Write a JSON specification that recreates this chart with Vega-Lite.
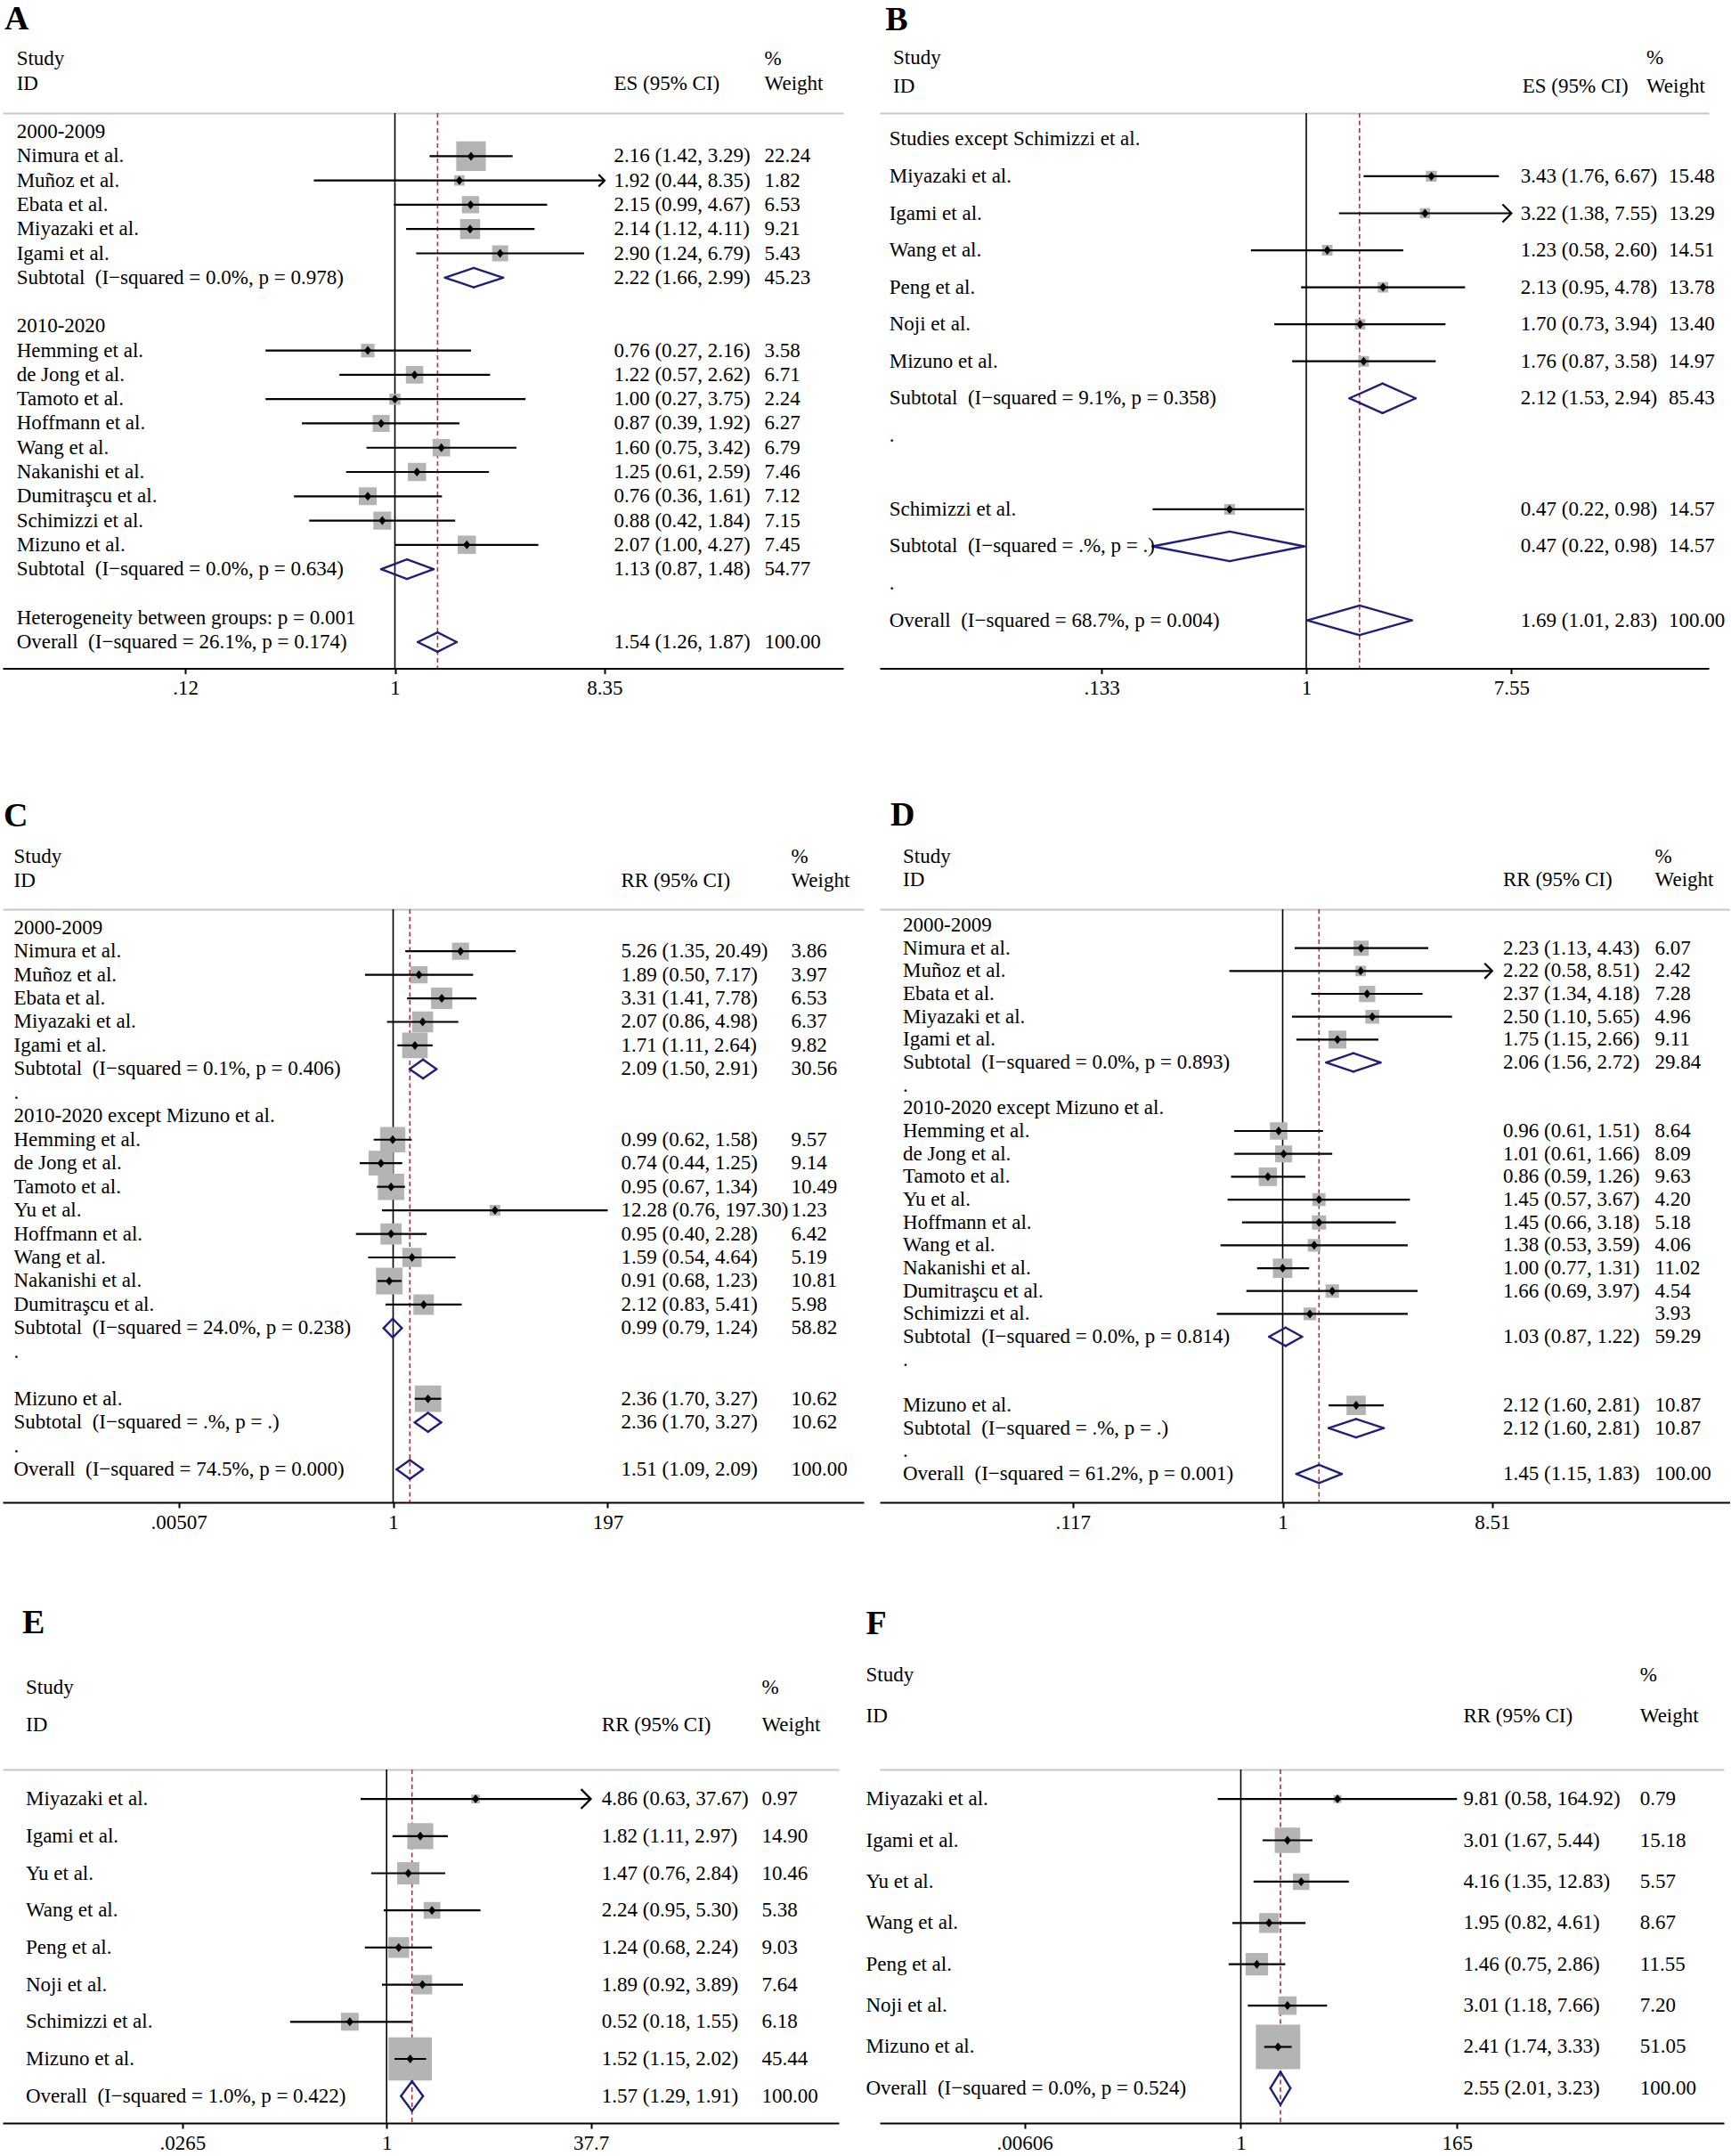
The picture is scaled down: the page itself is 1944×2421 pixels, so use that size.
{
"$schema": "https://vega.github.io/schema/vega-lite/v6.json",
"background": "white",
"padding": {"left": 2, "top": 3, "right": 0, "bottom": 0},
"config": {"view": {"stroke": null}, "font": "Liberation Serif"},
"resolve": {"scale": {"size": "independent"}},
"columns": 4, "spacing": 0, "bounds": "flush", "align": "none",
"datasets": {
"A": [
{"row": -4.62, "kind": "L", "letter": "A"},
{"row": -3, "kind": "h", "h1": "Study", "h3": "%"},
{"row": -2, "kind": "h", "h1": "ID", "h2": "ES (95% CI)", "h3": "Weight"},
{"row": 0, "kind": "g", "label": "2000-2009"},
{"row": 1, "kind": "s", "label": "Nimura et al.", "es": 2.16, "lcl": 1.42, "ucl": 3.29, "wt": 22.24, "ci": "2.16 (1.42, 3.29)"},
{"row": 2, "kind": "s", "label": "Muñoz et al.", "es": 1.92, "lcl": 0.44, "ucl": 8.35, "wt": 1.82, "ci": "1.92 (0.44, 8.35)", "arrow": true},
{"row": 3, "kind": "s", "label": "Ebata et al.", "es": 2.15, "lcl": 0.99, "ucl": 4.67, "wt": 6.53, "ci": "2.15 (0.99, 4.67)"},
{"row": 4, "kind": "s", "label": "Miyazaki et al.", "es": 2.14, "lcl": 1.12, "ucl": 4.11, "wt": 9.21, "ci": "2.14 (1.12, 4.11)"},
{"row": 5, "kind": "s", "label": "Igami et al.", "es": 2.90, "lcl": 1.24, "ucl": 6.79, "wt": 5.43, "ci": "2.90 (1.24, 6.79)"},
{"row": 6, "kind": "sub", "label": "Subtotal\u00a0 (I−squared = 0.0%, p = 0.978)", "es": 2.22, "lcl": 1.66, "ucl": 2.99, "wt": 45.23, "ci": "2.22 (1.66, 2.99)"},
{"row": 8, "kind": "g", "label": "2010-2020"},
{"row": 9, "kind": "s", "label": "Hemming et al.", "es": 0.76, "lcl": 0.27, "ucl": 2.16, "wt": 3.58, "ci": "0.76 (0.27, 2.16)"},
{"row": 10, "kind": "s", "label": "de Jong et al.", "es": 1.22, "lcl": 0.57, "ucl": 2.62, "wt": 6.71, "ci": "1.22 (0.57, 2.62)"},
{"row": 11, "kind": "s", "label": "Tamoto et al.", "es": 1.00, "lcl": 0.27, "ucl": 3.75, "wt": 2.24, "ci": "1.00 (0.27, 3.75)"},
{"row": 12, "kind": "s", "label": "Hoffmann et al.", "es": 0.87, "lcl": 0.39, "ucl": 1.92, "wt": 6.27, "ci": "0.87 (0.39, 1.92)"},
{"row": 13, "kind": "s", "label": "Wang et al.", "es": 1.60, "lcl": 0.75, "ucl": 3.42, "wt": 6.79, "ci": "1.60 (0.75, 3.42)"},
{"row": 14, "kind": "s", "label": "Nakanishi et al.", "es": 1.25, "lcl": 0.61, "ucl": 2.59, "wt": 7.46, "ci": "1.25 (0.61, 2.59)"},
{"row": 15, "kind": "s", "label": "Dumitraşcu et al.", "es": 0.76, "lcl": 0.36, "ucl": 1.61, "wt": 7.12, "ci": "0.76 (0.36, 1.61)"},
{"row": 16, "kind": "s", "label": "Schimizzi et al.", "es": 0.88, "lcl": 0.42, "ucl": 1.84, "wt": 7.15, "ci": "0.88 (0.42, 1.84)"},
{"row": 17, "kind": "s", "label": "Mizuno et al.", "es": 2.07, "lcl": 1.00, "ucl": 4.27, "wt": 7.45, "ci": "2.07 (1.00, 4.27)"},
{"row": 18, "kind": "sub", "label": "Subtotal\u00a0 (I−squared = 0.0%, p = 0.634)", "es": 1.13, "lcl": 0.87, "ucl": 1.48, "wt": 54.77, "ci": "1.13 (0.87, 1.48)"},
{"row": 20, "kind": "n", "label": "Heterogeneity between groups: p = 0.001"},
{"row": 21, "kind": "ov", "label": "Overall\u00a0 (I−squared = 26.1%, p = 0.174)", "es": 1.54, "lcl": 1.26, "ucl": 1.87, "wt": 100, "ci": "1.54 (1.26, 1.87)"}
],
"B": [
{"row": -3.2, "kind": "L", "letter": "B"},
{"row": -2.2, "kind": "h", "h1": "Study", "h3": "%"},
{"row": -1.425, "kind": "h", "h1": "ID", "h2": "ES (95% CI)", "h3": "Weight"},
{"row": 0, "kind": "g", "label": "Studies except Schimizzi et al."},
{"row": 1, "kind": "s", "label": "Miyazaki et al.", "es": 3.43, "lcl": 1.76, "ucl": 6.67, "wt": 15.48, "ci": "3.43 (1.76, 6.67)"},
{"row": 2, "kind": "s", "label": "Igami et al.", "es": 3.22, "lcl": 1.38, "ucl": 7.55, "wt": 13.29, "ci": "3.22 (1.38, 7.55)", "arrow": true},
{"row": 3, "kind": "s", "label": "Wang et al.", "es": 1.23, "lcl": 0.58, "ucl": 2.60, "wt": 14.51, "ci": "1.23 (0.58, 2.60)"},
{"row": 4, "kind": "s", "label": "Peng et al.", "es": 2.13, "lcl": 0.95, "ucl": 4.78, "wt": 13.78, "ci": "2.13 (0.95, 4.78)"},
{"row": 5, "kind": "s", "label": "Noji et al.", "es": 1.70, "lcl": 0.73, "ucl": 3.94, "wt": 13.40, "ci": "1.70 (0.73, 3.94)"},
{"row": 6, "kind": "s", "label": "Mizuno et al.", "es": 1.76, "lcl": 0.87, "ucl": 3.58, "wt": 14.97, "ci": "1.76 (0.87, 3.58)"},
{"row": 7, "kind": "sub", "label": "Subtotal\u00a0 (I−squared = 9.1%, p = 0.358)", "es": 2.12, "lcl": 1.53, "ucl": 2.94, "wt": 85.43, "ci": "2.12 (1.53, 2.94)"},
{"row": 8, "kind": "g", "label": "."},
{"row": 10, "kind": "s", "label": "Schimizzi et al.", "es": 0.47, "lcl": 0.22, "ucl": 0.98, "wt": 14.57, "ci": "0.47 (0.22, 0.98)"},
{"row": 11, "kind": "sub", "label": "Subtotal\u00a0 (I−squared = .%, p = .)", "es": 0.47, "lcl": 0.22, "ucl": 0.98, "wt": 14.57, "ci": "0.47 (0.22, 0.98)"},
{"row": 12, "kind": "g", "label": "."},
{"row": 13, "kind": "ov", "label": "Overall\u00a0 (I−squared = 68.7%, p = 0.004)", "es": 1.69, "lcl": 1.01, "ucl": 2.83, "wt": 100, "ci": "1.69 (1.01, 2.83)"}
],
"C": [
{"row": -4.71, "kind": "L", "letter": "C"},
{"row": -3, "kind": "h", "h1": "Study", "h3": "%"},
{"row": -2, "kind": "h", "h1": "ID", "h2": "RR (95% CI)", "h3": "Weight"},
{"row": 0, "kind": "g", "label": "2000-2009"},
{"row": 1, "kind": "s", "label": "Nimura et al.", "es": 5.26, "lcl": 1.35, "ucl": 20.49, "wt": 3.86, "ci": "5.26 (1.35, 20.49)"},
{"row": 2, "kind": "s", "label": "Muñoz et al.", "es": 1.89, "lcl": 0.50, "ucl": 7.17, "wt": 3.97, "ci": "1.89 (0.50, 7.17)"},
{"row": 3, "kind": "s", "label": "Ebata et al.", "es": 3.31, "lcl": 1.41, "ucl": 7.78, "wt": 6.53, "ci": "3.31 (1.41, 7.78)"},
{"row": 4, "kind": "s", "label": "Miyazaki et al.", "es": 2.07, "lcl": 0.86, "ucl": 4.98, "wt": 6.37, "ci": "2.07 (0.86, 4.98)"},
{"row": 5, "kind": "s", "label": "Igami et al.", "es": 1.71, "lcl": 1.11, "ucl": 2.64, "wt": 9.82, "ci": "1.71 (1.11, 2.64)"},
{"row": 6, "kind": "sub", "label": "Subtotal\u00a0 (I−squared = 0.1%, p = 0.406)", "es": 2.09, "lcl": 1.50, "ucl": 2.91, "wt": 30.56, "ci": "2.09 (1.50, 2.91)"},
{"row": 7, "kind": "g", "label": "."},
{"row": 8, "kind": "g", "label": "2010-2020 except Mizuno et al."},
{"row": 9, "kind": "s", "label": "Hemming et al.", "es": 0.99, "lcl": 0.62, "ucl": 1.58, "wt": 9.57, "ci": "0.99 (0.62, 1.58)"},
{"row": 10, "kind": "s", "label": "de Jong et al.", "es": 0.74, "lcl": 0.44, "ucl": 1.25, "wt": 9.14, "ci": "0.74 (0.44, 1.25)"},
{"row": 11, "kind": "s", "label": "Tamoto et al.", "es": 0.95, "lcl": 0.67, "ucl": 1.34, "wt": 10.49, "ci": "0.95 (0.67, 1.34)"},
{"row": 12, "kind": "s", "label": "Yu et al.", "es": 12.28, "lcl": 0.76, "ucl": 197.30, "wt": 1.23, "ci": "12.28 (0.76, 197.30)"},
{"row": 13, "kind": "s", "label": "Hoffmann et al.", "es": 0.95, "lcl": 0.40, "ucl": 2.28, "wt": 6.42, "ci": "0.95 (0.40, 2.28)"},
{"row": 14, "kind": "s", "label": "Wang et al.", "es": 1.59, "lcl": 0.54, "ucl": 4.64, "wt": 5.19, "ci": "1.59 (0.54, 4.64)"},
{"row": 15, "kind": "s", "label": "Nakanishi et al.", "es": 0.91, "lcl": 0.68, "ucl": 1.23, "wt": 10.81, "ci": "0.91 (0.68, 1.23)"},
{"row": 16, "kind": "s", "label": "Dumitraşcu et al.", "es": 2.12, "lcl": 0.83, "ucl": 5.41, "wt": 5.98, "ci": "2.12 (0.83, 5.41)"},
{"row": 17, "kind": "sub", "label": "Subtotal\u00a0 (I−squared = 24.0%, p = 0.238)", "es": 0.99, "lcl": 0.79, "ucl": 1.24, "wt": 58.82, "ci": "0.99 (0.79, 1.24)"},
{"row": 18, "kind": "g", "label": "."},
{"row": 20, "kind": "s", "label": "Mizuno et al.", "es": 2.36, "lcl": 1.70, "ucl": 3.27, "wt": 10.62, "ci": "2.36 (1.70, 3.27)"},
{"row": 21, "kind": "sub", "label": "Subtotal\u00a0 (I−squared = .%, p = .)", "es": 2.36, "lcl": 1.70, "ucl": 3.27, "wt": 10.62, "ci": "2.36 (1.70, 3.27)"},
{"row": 22, "kind": "g", "label": "."},
{"row": 23, "kind": "ov", "label": "Overall\u00a0 (I−squared = 74.5%, p = 0.000)", "es": 1.51, "lcl": 1.09, "ucl": 2.09, "wt": 100, "ci": "1.51 (1.09, 2.09)"}
],
"D": [
{"row": -4.81, "kind": "L", "letter": "D"},
{"row": -3, "kind": "h", "h1": "Study", "h3": "%"},
{"row": -2, "kind": "h", "h1": "ID", "h2": "RR (95% CI)", "h3": "Weight"},
{"row": 0, "kind": "g", "label": "2000-2009"},
{"row": 1, "kind": "s", "label": "Nimura et al.", "es": 2.23, "lcl": 1.13, "ucl": 4.43, "wt": 6.07, "ci": "2.23 (1.13, 4.43)"},
{"row": 2, "kind": "s", "label": "Muñoz et al.", "es": 2.22, "lcl": 0.58, "ucl": 8.51, "wt": 2.42, "ci": "2.22 (0.58, 8.51)", "arrow": true},
{"row": 3, "kind": "s", "label": "Ebata et al.", "es": 2.37, "lcl": 1.34, "ucl": 4.18, "wt": 7.28, "ci": "2.37 (1.34, 4.18)"},
{"row": 4, "kind": "s", "label": "Miyazaki et al.", "es": 2.50, "lcl": 1.10, "ucl": 5.65, "wt": 4.96, "ci": "2.50 (1.10, 5.65)"},
{"row": 5, "kind": "s", "label": "Igami et al.", "es": 1.75, "lcl": 1.15, "ucl": 2.66, "wt": 9.11, "ci": "1.75 (1.15, 2.66)"},
{"row": 6, "kind": "sub", "label": "Subtotal\u00a0 (I−squared = 0.0%, p = 0.893)", "es": 2.06, "lcl": 1.56, "ucl": 2.72, "wt": 29.84, "ci": "2.06 (1.56, 2.72)"},
{"row": 7, "kind": "g", "label": "."},
{"row": 8, "kind": "g", "label": "2010-2020 except Mizuno et al."},
{"row": 9, "kind": "s", "label": "Hemming et al.", "es": 0.96, "lcl": 0.61, "ucl": 1.51, "wt": 8.64, "ci": "0.96 (0.61, 1.51)"},
{"row": 10, "kind": "s", "label": "de Jong et al.", "es": 1.01, "lcl": 0.61, "ucl": 1.66, "wt": 8.09, "ci": "1.01 (0.61, 1.66)"},
{"row": 11, "kind": "s", "label": "Tamoto et al.", "es": 0.86, "lcl": 0.59, "ucl": 1.26, "wt": 9.63, "ci": "0.86 (0.59, 1.26)"},
{"row": 12, "kind": "s", "label": "Yu et al.", "es": 1.45, "lcl": 0.57, "ucl": 3.67, "wt": 4.20, "ci": "1.45 (0.57, 3.67)"},
{"row": 13, "kind": "s", "label": "Hoffmann et al.", "es": 1.45, "lcl": 0.66, "ucl": 3.18, "wt": 5.18, "ci": "1.45 (0.66, 3.18)"},
{"row": 14, "kind": "s", "label": "Wang et al.", "es": 1.38, "lcl": 0.53, "ucl": 3.59, "wt": 4.06, "ci": "1.38 (0.53, 3.59)"},
{"row": 15, "kind": "s", "label": "Nakanishi et al.", "es": 1.00, "lcl": 0.77, "ucl": 1.31, "wt": 11.02, "ci": "1.00 (0.77, 1.31)"},
{"row": 16, "kind": "s", "label": "Dumitraşcu et al.", "es": 1.66, "lcl": 0.69, "ucl": 3.97, "wt": 4.54, "ci": "1.66 (0.69, 3.97)"},
{"row": 17, "kind": "s", "label": "Schimizzi et al.", "es": 1.32, "lcl": 0.51, "ucl": 3.59, "wt": 3.93},
{"row": 18, "kind": "sub", "label": "Subtotal\u00a0 (I−squared = 0.0%, p = 0.814)", "es": 1.03, "lcl": 0.87, "ucl": 1.22, "wt": 59.29, "ci": "1.03 (0.87, 1.22)"},
{"row": 19, "kind": "g", "label": "."},
{"row": 21, "kind": "s", "label": "Mizuno et al.", "es": 2.12, "lcl": 1.60, "ucl": 2.81, "wt": 10.87, "ci": "2.12 (1.60, 2.81)"},
{"row": 22, "kind": "sub", "label": "Subtotal\u00a0 (I−squared = .%, p = .)", "es": 2.12, "lcl": 1.60, "ucl": 2.81, "wt": 10.87, "ci": "2.12 (1.60, 2.81)"},
{"row": 23, "kind": "g", "label": "."},
{"row": 24, "kind": "ov", "label": "Overall\u00a0 (I−squared = 61.2%, p = 0.001)", "es": 1.45, "lcl": 1.15, "ucl": 1.83, "wt": 100, "ci": "1.45 (1.15, 1.83)"}
],
"E": [
{"row": -4.715, "kind": "L", "letter": "E"},
{"row": -3, "kind": "h", "h1": "Study", "h3": "%"},
{"row": -2, "kind": "h", "h1": "ID", "h2": "RR (95% CI)", "h3": "Weight"},
{"row": 0, "kind": "s", "label": "Miyazaki et al.", "es": 4.86, "lcl": 0.63, "ucl": 37.67, "wt": 0.97, "ci": "4.86 (0.63, 37.67)", "arrow": true},
{"row": 1, "kind": "s", "label": "Igami et al.", "es": 1.82, "lcl": 1.11, "ucl": 2.97, "wt": 14.90, "ci": "1.82 (1.11, 2.97)"},
{"row": 2, "kind": "s", "label": "Yu et al.", "es": 1.47, "lcl": 0.76, "ucl": 2.84, "wt": 10.46, "ci": "1.47 (0.76, 2.84)"},
{"row": 3, "kind": "s", "label": "Wang et al.", "es": 2.24, "lcl": 0.95, "ucl": 5.30, "wt": 5.38, "ci": "2.24 (0.95, 5.30)"},
{"row": 4, "kind": "s", "label": "Peng et al.", "es": 1.24, "lcl": 0.68, "ucl": 2.24, "wt": 9.03, "ci": "1.24 (0.68, 2.24)"},
{"row": 5, "kind": "s", "label": "Noji et al.", "es": 1.89, "lcl": 0.92, "ucl": 3.89, "wt": 7.64, "ci": "1.89 (0.92, 3.89)"},
{"row": 6, "kind": "s", "label": "Schimizzi et al.", "es": 0.52, "lcl": 0.18, "ucl": 1.55, "wt": 6.18, "ci": "0.52 (0.18, 1.55)"},
{"row": 7, "kind": "s", "label": "Mizuno et al.", "es": 1.52, "lcl": 1.15, "ucl": 2.02, "wt": 45.44, "ci": "1.52 (1.15, 2.02)"},
{"row": 8, "kind": "ov", "label": "Overall\u00a0 (I−squared = 1.0%, p = 0.422)", "es": 1.57, "lcl": 1.29, "ucl": 1.91, "wt": 100, "ci": "1.57 (1.29, 1.91)"}
],
"F": [
{"row": -4.226, "kind": "L", "letter": "F"},
{"row": -3, "kind": "h", "h1": "Study", "h3": "%"},
{"row": -2, "kind": "h", "h1": "ID", "h2": "RR (95% CI)", "h3": "Weight"},
{"row": 0, "kind": "s", "label": "Miyazaki et al.", "es": 9.81, "lcl": 0.58, "ucl": 164.92, "wt": 0.79, "ci": "9.81 (0.58, 164.92)"},
{"row": 1, "kind": "s", "label": "Igami et al.", "es": 3.01, "lcl": 1.67, "ucl": 5.44, "wt": 15.18, "ci": "3.01 (1.67, 5.44)"},
{"row": 2, "kind": "s", "label": "Yu et al.", "es": 4.16, "lcl": 1.35, "ucl": 12.83, "wt": 5.57, "ci": "4.16 (1.35, 12.83)"},
{"row": 3, "kind": "s", "label": "Wang et al.", "es": 1.95, "lcl": 0.82, "ucl": 4.61, "wt": 8.67, "ci": "1.95 (0.82, 4.61)"},
{"row": 4, "kind": "s", "label": "Peng et al.", "es": 1.46, "lcl": 0.75, "ucl": 2.86, "wt": 11.55, "ci": "1.46 (0.75, 2.86)"},
{"row": 5, "kind": "s", "label": "Noji et al.", "es": 3.01, "lcl": 1.18, "ucl": 7.66, "wt": 7.20, "ci": "3.01 (1.18, 7.66)"},
{"row": 6, "kind": "s", "label": "Mizuno et al.", "es": 2.41, "lcl": 1.74, "ucl": 3.33, "wt": 51.05, "ci": "2.41 (1.74, 3.33)"},
{"row": 7, "kind": "ov", "label": "Overall\u00a0 (I−squared = 0.0%, p = 0.524)", "es": 2.55, "lcl": 2.01, "ucl": 3.23, "wt": 100, "ci": "2.55 (2.01, 3.23)"}
]
},
"concat": [
{"width": 1, "height": 1, "data": {"values": [{}]}, "mark": {"type": "text", "text": ""}},
{"width": 944, "height": 623.5, "data": {"name": "A"}, "layer": [
{"data": {"values": [{}]}, "mark": {"type": "rule", "color": "black", "strokeWidth": 1.6}, "encoding": {"x": {"datum": 1, "type": "quantitative", "scale": {"type": "log", "domain": [0.018874, 93.46], "nice": false}, "axis": null}}},
{"transform": [{"filter": "datum.kind == 'ov'"}], "mark": {"type": "rule", "color": "#a8323e", "strokeWidth": 1.6, "strokeDash": [5, 3.5]}, "encoding": {"x": {"field": "es", "type": "quantitative", "scale": {"type": "log", "domain": [0.018874, 93.46], "nice": false}, "axis": null}}},
{"transform": [{"filter": "datum.kind == 's'"}], "mark": {"type": "point", "shape": "square", "filled": true, "fill": "#b4b4b4", "stroke": "#b4b4b4", "strokeWidth": 3, "opacity": 1}, "encoding": {"x": {"field": "es", "type": "quantitative", "scale": {"type": "log", "domain": [0.018874, 93.46], "nice": false}, "axis": {"orient": "top", "title": null, "grid": false, "ticks": false, "labels": false, "domainColor": "#c8c8c8", "domainWidth": 2}}, "y": {"field": "row", "type": "quantitative", "scale": {"domain": [-0.7735, 22.082], "reverse": true, "nice": false, "zero": false}, "axis": null}, "size": {"field": "wt", "type": "quantitative", "scale": {"domain": [0, 100], "range": [0, 4100]}, "legend": null}}},
{"transform": [{"filter": "datum.kind == 's'"}], "mark": {"type": "rule", "color": "black", "strokeWidth": 2.2}, "encoding": {"x": {"field": "lcl", "type": "quantitative", "scale": {"type": "log", "domain": [0.018874, 93.46], "nice": false}, "axis": {"orient": "bottom", "values": [0.12, 1, 8.35], "labelExpr": "datum.value < 1 ? replace(format(datum.value, '~g'), '0.', '.') : format(datum.value, '~g')", "title": null, "grid": false, "domainColor": "black", "domainWidth": 2, "tickColor": "black", "tickWidth": 2, "tickSize": 6, "labelPadding": 5, "labelFont": "Liberation Serif", "labelFontSize": 23, "labelColor": "black", "labelFlush": false, "labelOverlap": false, "labelBound": false}}, "x2": {"field": "ucl"}, "y": {"field": "row", "type": "quantitative", "scale": {"domain": [-0.7735, 22.082], "reverse": true, "nice": false, "zero": false}, "axis": null}}},
{"transform": [{"filter": "datum.kind == 's'"}], "mark": {"type": "point", "shape": "M-0.8,0L0,-1L0.8,0L0,1Z", "filled": true, "fill": "black", "strokeWidth": 0, "size": 100, "opacity": 1}, "encoding": {"x": {"field": "es", "type": "quantitative", "scale": {"type": "log", "domain": [0.018874, 93.46], "nice": false}, "axis": null}, "y": {"field": "row", "type": "quantitative", "scale": {"domain": [-0.7735, 22.082], "reverse": true, "nice": false, "zero": false}, "axis": null}}},
{"transform": [{"filter": "datum.arrow == true"}], "mark": {"type": "point", "shape": "M-1,-1L0,0L-1,1", "filled": false, "stroke": "black", "strokeWidth": 2.2, "size": 180, "opacity": 1}, "encoding": {"x": {"field": "ucl", "type": "quantitative", "scale": {"type": "log", "domain": [0.018874, 93.46], "nice": false}, "axis": null}, "y": {"field": "row", "type": "quantitative", "scale": {"domain": [-0.7735, 22.082], "reverse": true, "nice": false, "zero": false}, "axis": null}}},
{"transform": [{"filter": "datum.kind == 'sub' || datum.kind == 'ov'"}], "mark": {"type": "rule", "color": "#1f1f7a", "strokeWidth": 2.4, "strokeCap": "round", "y2Offset": -10.9}, "encoding": {"x": {"field": "lcl", "type": "quantitative", "scale": {"type": "log", "domain": [0.018874, 93.46], "nice": false}, "axis": null}, "x2": {"field": "es"}, "y": {"field": "row", "type": "quantitative", "scale": {"domain": [-0.7735, 22.082], "reverse": true, "nice": false, "zero": false}, "axis": null}, "y2": {"field": "row"}}},
{"transform": [{"filter": "datum.kind == 'sub' || datum.kind == 'ov'"}], "mark": {"type": "rule", "color": "#1f1f7a", "strokeWidth": 2.4, "strokeCap": "round", "yOffset": -10.9}, "encoding": {"x": {"field": "es", "type": "quantitative", "scale": {"type": "log", "domain": [0.018874, 93.46], "nice": false}, "axis": null}, "x2": {"field": "ucl"}, "y": {"field": "row", "type": "quantitative", "scale": {"domain": [-0.7735, 22.082], "reverse": true, "nice": false, "zero": false}, "axis": null}, "y2": {"field": "row"}}},
{"transform": [{"filter": "datum.kind == 'sub' || datum.kind == 'ov'"}], "mark": {"type": "rule", "color": "#1f1f7a", "strokeWidth": 2.4, "strokeCap": "round", "y2Offset": 10.9}, "encoding": {"x": {"field": "lcl", "type": "quantitative", "scale": {"type": "log", "domain": [0.018874, 93.46], "nice": false}, "axis": null}, "x2": {"field": "es"}, "y": {"field": "row", "type": "quantitative", "scale": {"domain": [-0.7735, 22.082], "reverse": true, "nice": false, "zero": false}, "axis": null}, "y2": {"field": "row"}}},
{"transform": [{"filter": "datum.kind == 'sub' || datum.kind == 'ov'"}], "mark": {"type": "rule", "color": "#1f1f7a", "strokeWidth": 2.4, "strokeCap": "round", "yOffset": 10.9}, "encoding": {"x": {"field": "es", "type": "quantitative", "scale": {"type": "log", "domain": [0.018874, 93.46], "nice": false}, "axis": null}, "x2": {"field": "ucl"}, "y": {"field": "row", "type": "quantitative", "scale": {"domain": [-0.7735, 22.082], "reverse": true, "nice": false, "zero": false}, "axis": null}, "y2": {"field": "row"}}},
{"transform": [{"filter": "isValid(datum.label)"}], "mark": {"type": "text", "align": "left", "baseline": "middle", "font": "Liberation Serif", "fontSize": 23, "color": "black"}, "encoding": {"x": {"datum": 0.02173, "type": "quantitative", "scale": {"type": "log", "domain": [0.018874, 93.46], "nice": false}, "axis": null}, "y": {"field": "row", "type": "quantitative", "scale": {"domain": [-0.7735, 22.082], "reverse": true, "nice": false, "zero": false}, "axis": null}, "text": {"field": "label"}}},
{"transform": [{"filter": "isValid(datum.ci)"}], "mark": {"type": "text", "align": "left", "baseline": "middle", "font": "Liberation Serif", "fontSize": 23, "color": "black"}, "encoding": {"x": {"datum": 9.172, "type": "quantitative", "scale": {"type": "log", "domain": [0.018874, 93.46], "nice": false}, "axis": null}, "y": {"field": "row", "type": "quantitative", "scale": {"domain": [-0.7735, 22.082], "reverse": true, "nice": false, "zero": false}, "axis": null}, "text": {"field": "ci"}}},
{"transform": [{"filter": "isValid(datum.wt)"}], "mark": {"type": "text", "align": "left", "baseline": "middle", "font": "Liberation Serif", "fontSize": 23, "color": "black"}, "encoding": {"x": {"datum": 42.13, "type": "quantitative", "scale": {"type": "log", "domain": [0.018874, 93.46], "nice": false}, "axis": null}, "y": {"field": "row", "type": "quantitative", "scale": {"domain": [-0.7735, 22.082], "reverse": true, "nice": false, "zero": false}, "axis": null}, "text": {"field": "wt", "type": "quantitative", "format": ".2f"}}},
{"transform": [{"filter": "isValid(datum.h1)"}], "mark": {"type": "text", "align": "left", "baseline": "middle", "font": "Liberation Serif", "fontSize": 23, "color": "black"}, "encoding": {"x": {"datum": 0.02173, "type": "quantitative", "scale": {"type": "log", "domain": [0.018874, 93.46], "nice": false}, "axis": null}, "y": {"field": "row", "type": "quantitative", "scale": {"domain": [-0.7735, 22.082], "reverse": true, "nice": false, "zero": false}, "axis": null}, "text": {"field": "h1"}}},
{"transform": [{"filter": "isValid(datum.h2)"}], "mark": {"type": "text", "align": "left", "baseline": "middle", "font": "Liberation Serif", "fontSize": 23, "color": "black"}, "encoding": {"x": {"datum": 9.172, "type": "quantitative", "scale": {"type": "log", "domain": [0.018874, 93.46], "nice": false}, "axis": null}, "y": {"field": "row", "type": "quantitative", "scale": {"domain": [-0.7735, 22.082], "reverse": true, "nice": false, "zero": false}, "axis": null}, "text": {"field": "h2"}}},
{"transform": [{"filter": "isValid(datum.h3)"}], "mark": {"type": "text", "align": "left", "baseline": "middle", "font": "Liberation Serif", "fontSize": 23, "color": "black"}, "encoding": {"x": {"datum": 42.13, "type": "quantitative", "scale": {"type": "log", "domain": [0.018874, 93.46], "nice": false}, "axis": null}, "y": {"field": "row", "type": "quantitative", "scale": {"domain": [-0.7735, 22.082], "reverse": true, "nice": false, "zero": false}, "axis": null}, "text": {"field": "h3"}}},
{"transform": [{"filter": "isValid(datum.letter)"}], "mark": {"type": "text", "align": "left", "baseline": "middle", "font": "Liberation Serif", "fontSize": 38, "fontWeight": "bold", "color": "black"}, "encoding": {"x": {"datum": 0.01922, "type": "quantitative", "scale": {"type": "log", "domain": [0.018874, 93.46], "nice": false}, "axis": null}, "y": {"field": "row", "type": "quantitative", "scale": {"domain": [-0.7735, 22.082], "reverse": true, "nice": false, "zero": false}, "axis": null}, "text": {"field": "letter"}}}
]},
{"width": 18, "height": 1, "data": {"values": [{}]}, "mark": {"type": "text", "text": ""}},
{"width": 931, "height": 623.5, "data": {"name": "B"}, "layer": [
{"data": {"values": [{}]}, "mark": {"type": "rule", "color": "black", "strokeWidth": 1.6}, "encoding": {"x": {"datum": 1, "type": "quantitative", "scale": {"type": "log", "domain": [0.01497, 52.72], "nice": false}, "axis": null}}},
{"transform": [{"filter": "datum.kind == 'ov'"}], "mark": {"type": "rule", "color": "#a8323e", "strokeWidth": 1.6, "strokeDash": [5, 3.5]}, "encoding": {"x": {"field": "es", "type": "quantitative", "scale": {"type": "log", "domain": [0.01497, 52.72], "nice": false}, "axis": null}}},
{"transform": [{"filter": "datum.kind == 's'"}], "mark": {"type": "point", "shape": "square", "filled": true, "fill": "#b4b4b4", "stroke": "#b4b4b4", "strokeWidth": 3, "opacity": 1}, "encoding": {"x": {"field": "es", "type": "quantitative", "scale": {"type": "log", "domain": [0.01497, 52.72], "nice": false}, "axis": {"orient": "top", "title": null, "grid": false, "ticks": false, "labels": false, "domainColor": "#c8c8c8", "domainWidth": 2}}, "y": {"field": "row", "type": "quantitative", "scale": {"domain": [-0.7076, 14.298], "reverse": true, "nice": false, "zero": false}, "axis": null}, "size": {"field": "wt", "type": "quantitative", "scale": {"domain": [0, 100], "range": [0, 550]}, "legend": null}}},
{"transform": [{"filter": "datum.kind == 's'"}], "mark": {"type": "rule", "color": "black", "strokeWidth": 2.2}, "encoding": {"x": {"field": "lcl", "type": "quantitative", "scale": {"type": "log", "domain": [0.01497, 52.72], "nice": false}, "axis": {"orient": "bottom", "values": [0.133, 1, 7.55], "labelExpr": "datum.value < 1 ? replace(format(datum.value, '~g'), '0.', '.') : format(datum.value, '~g')", "title": null, "grid": false, "domainColor": "black", "domainWidth": 2, "tickColor": "black", "tickWidth": 2, "tickSize": 6, "labelPadding": 5, "labelFont": "Liberation Serif", "labelFontSize": 23, "labelColor": "black", "labelFlush": false, "labelOverlap": false, "labelBound": false}}, "x2": {"field": "ucl"}, "y": {"field": "row", "type": "quantitative", "scale": {"domain": [-0.7076, 14.298], "reverse": true, "nice": false, "zero": false}, "axis": null}}},
{"transform": [{"filter": "datum.kind == 's'"}], "mark": {"type": "point", "shape": "M-0.8,0L0,-1L0.8,0L0,1Z", "filled": true, "fill": "black", "strokeWidth": 0, "size": 100, "opacity": 1}, "encoding": {"x": {"field": "es", "type": "quantitative", "scale": {"type": "log", "domain": [0.01497, 52.72], "nice": false}, "axis": null}, "y": {"field": "row", "type": "quantitative", "scale": {"domain": [-0.7076, 14.298], "reverse": true, "nice": false, "zero": false}, "axis": null}}},
{"transform": [{"filter": "datum.arrow == true"}], "mark": {"type": "point", "shape": "M-1,-1L0,0L-1,1", "filled": false, "stroke": "black", "strokeWidth": 2.2, "size": 400, "opacity": 1}, "encoding": {"x": {"field": "ucl", "type": "quantitative", "scale": {"type": "log", "domain": [0.01497, 52.72], "nice": false}, "axis": null}, "y": {"field": "row", "type": "quantitative", "scale": {"domain": [-0.7076, 14.298], "reverse": true, "nice": false, "zero": false}, "axis": null}}},
{"transform": [{"filter": "datum.kind == 'sub' || datum.kind == 'ov'"}], "mark": {"type": "rule", "color": "#1f1f7a", "strokeWidth": 2.4, "strokeCap": "round", "y2Offset": -16.6}, "encoding": {"x": {"field": "lcl", "type": "quantitative", "scale": {"type": "log", "domain": [0.01497, 52.72], "nice": false}, "axis": null}, "x2": {"field": "es"}, "y": {"field": "row", "type": "quantitative", "scale": {"domain": [-0.7076, 14.298], "reverse": true, "nice": false, "zero": false}, "axis": null}, "y2": {"field": "row"}}},
{"transform": [{"filter": "datum.kind == 'sub' || datum.kind == 'ov'"}], "mark": {"type": "rule", "color": "#1f1f7a", "strokeWidth": 2.4, "strokeCap": "round", "yOffset": -16.6}, "encoding": {"x": {"field": "es", "type": "quantitative", "scale": {"type": "log", "domain": [0.01497, 52.72], "nice": false}, "axis": null}, "x2": {"field": "ucl"}, "y": {"field": "row", "type": "quantitative", "scale": {"domain": [-0.7076, 14.298], "reverse": true, "nice": false, "zero": false}, "axis": null}, "y2": {"field": "row"}}},
{"transform": [{"filter": "datum.kind == 'sub' || datum.kind == 'ov'"}], "mark": {"type": "rule", "color": "#1f1f7a", "strokeWidth": 2.4, "strokeCap": "round", "y2Offset": 16.6}, "encoding": {"x": {"field": "lcl", "type": "quantitative", "scale": {"type": "log", "domain": [0.01497, 52.72], "nice": false}, "axis": null}, "x2": {"field": "es"}, "y": {"field": "row", "type": "quantitative", "scale": {"domain": [-0.7076, 14.298], "reverse": true, "nice": false, "zero": false}, "axis": null}, "y2": {"field": "row"}}},
{"transform": [{"filter": "datum.kind == 'sub' || datum.kind == 'ov'"}], "mark": {"type": "rule", "color": "#1f1f7a", "strokeWidth": 2.4, "strokeCap": "round", "yOffset": 16.6}, "encoding": {"x": {"field": "es", "type": "quantitative", "scale": {"type": "log", "domain": [0.01497, 52.72], "nice": false}, "axis": null}, "x2": {"field": "ucl"}, "y": {"field": "row", "type": "quantitative", "scale": {"domain": [-0.7076, 14.298], "reverse": true, "nice": false, "zero": false}, "axis": null}, "y2": {"field": "row"}}},
{"transform": [{"filter": "isValid(datum.label)"}], "mark": {"type": "text", "align": "left", "baseline": "middle", "font": "Liberation Serif", "fontSize": 23, "color": "black"}, "encoding": {"x": {"datum": 0.016444, "type": "quantitative", "scale": {"type": "log", "domain": [0.01497, 52.72], "nice": false}, "axis": null}, "y": {"field": "row", "type": "quantitative", "scale": {"domain": [-0.7076, 14.298], "reverse": true, "nice": false, "zero": false}, "axis": null}, "text": {"field": "label"}}},
{"transform": [{"filter": "isValid(datum.ci)"}], "mark": {"type": "text", "align": "left", "baseline": "middle", "font": "Liberation Serif", "fontSize": 23, "color": "black"}, "encoding": {"x": {"datum": 8.273, "type": "quantitative", "scale": {"type": "log", "domain": [0.01497, 52.72], "nice": false}, "axis": null}, "y": {"field": "row", "type": "quantitative", "scale": {"domain": [-0.7076, 14.298], "reverse": true, "nice": false, "zero": false}, "axis": null}, "text": {"field": "ci"}}},
{"transform": [{"filter": "isValid(datum.wt)"}], "mark": {"type": "text", "align": "left", "baseline": "middle", "font": "Liberation Serif", "fontSize": 23, "color": "black"}, "encoding": {"x": {"datum": 35.51, "type": "quantitative", "scale": {"type": "log", "domain": [0.01497, 52.72], "nice": false}, "axis": null}, "y": {"field": "row", "type": "quantitative", "scale": {"domain": [-0.7076, 14.298], "reverse": true, "nice": false, "zero": false}, "axis": null}, "text": {"field": "wt", "type": "quantitative", "format": ".2f"}}},
{"transform": [{"filter": "isValid(datum.h1)"}], "mark": {"type": "text", "align": "left", "baseline": "middle", "font": "Liberation Serif", "fontSize": 23, "color": "black"}, "encoding": {"x": {"datum": 0.017075, "type": "quantitative", "scale": {"type": "log", "domain": [0.01497, 52.72], "nice": false}, "axis": null}, "y": {"field": "row", "type": "quantitative", "scale": {"domain": [-0.7076, 14.298], "reverse": true, "nice": false, "zero": false}, "axis": null}, "text": {"field": "h1"}}},
{"transform": [{"filter": "isValid(datum.h2)"}], "mark": {"type": "text", "align": "left", "baseline": "middle", "font": "Liberation Serif", "fontSize": 23, "color": "black"}, "encoding": {"x": {"datum": 8.412, "type": "quantitative", "scale": {"type": "log", "domain": [0.01497, 52.72], "nice": false}, "axis": null}, "y": {"field": "row", "type": "quantitative", "scale": {"domain": [-0.7076, 14.298], "reverse": true, "nice": false, "zero": false}, "axis": null}, "text": {"field": "h2"}}},
{"transform": [{"filter": "isValid(datum.h3)"}], "mark": {"type": "text", "align": "left", "baseline": "middle", "font": "Liberation Serif", "fontSize": 23, "color": "black"}, "encoding": {"x": {"datum": 28.52, "type": "quantitative", "scale": {"type": "log", "domain": [0.01497, 52.72], "nice": false}, "axis": null}, "y": {"field": "row", "type": "quantitative", "scale": {"domain": [-0.7076, 14.298], "reverse": true, "nice": false, "zero": false}, "axis": null}, "text": {"field": "h3"}}},
{"transform": [{"filter": "isValid(datum.letter)"}], "mark": {"type": "text", "align": "left", "baseline": "middle", "font": "Liberation Serif", "fontSize": 38, "fontWeight": "bold", "color": "black"}, "encoding": {"x": {"datum": 0.0158, "type": "quantitative", "scale": {"type": "log", "domain": [0.01497, 52.72], "nice": false}, "axis": null}, "y": {"field": "row", "type": "quantitative", "scale": {"domain": [-0.7076, 14.298], "reverse": true, "nice": false, "zero": false}, "axis": null}, "text": {"field": "letter"}}}
]},
{"width": 1, "height": 1, "data": {"values": [{}]}, "mark": {"type": "text", "text": ""}},
{"width": 1, "height": 270, "data": {"values": [{}]}, "mark": {"type": "text", "text": ""}},
{"width": 1, "height": 1, "data": {"values": [{}]}, "mark": {"type": "text", "text": ""}},
{"width": 1, "height": 270, "data": {"values": [{}]}, "mark": {"type": "text", "text": ""}},
{"width": 1, "height": 1, "data": {"values": [{}]}, "mark": {"type": "text", "text": ""}},
{"width": 967, "height": 666, "data": {"name": "C"}, "layer": [
{"data": {"values": [{}]}, "mark": {"type": "rule", "color": "black", "strokeWidth": 1.6}, "encoding": {"x": {"datum": 1, "type": "quantitative", "scale": {"type": "log", "domain": [6.664e-5, 107977], "nice": false}, "axis": null}}},
{"transform": [{"filter": "datum.kind == 'ov'"}], "mark": {"type": "rule", "color": "#a8323e", "strokeWidth": 1.6, "strokeDash": [5, 3.5]}, "encoding": {"x": {"field": "es", "type": "quantitative", "scale": {"type": "log", "domain": [6.664e-5, 107977], "nice": false}, "axis": null}}},
{"transform": [{"filter": "datum.kind == 's'"}], "mark": {"type": "point", "shape": "square", "filled": true, "fill": "#b4b4b4", "stroke": "#b4b4b4", "strokeWidth": 3, "opacity": 1}, "encoding": {"x": {"field": "es", "type": "quantitative", "scale": {"type": "log", "domain": [6.664e-5, 107977], "nice": false}, "axis": {"orient": "top", "title": null, "grid": false, "ticks": false, "labels": false, "domainColor": "#c8c8c8", "domainWidth": 2}}, "y": {"field": "row", "type": "quantitative", "scale": {"domain": [-0.7826, 24.397], "reverse": true, "nice": false, "zero": false}, "axis": null}, "size": {"field": "wt", "type": "quantitative", "scale": {"domain": [0, 100], "range": [0, 6700]}, "legend": null}}},
{"transform": [{"filter": "datum.kind == 's'"}], "mark": {"type": "rule", "color": "black", "strokeWidth": 2.2}, "encoding": {"x": {"field": "lcl", "type": "quantitative", "scale": {"type": "log", "domain": [6.664e-5, 107977], "nice": false}, "axis": {"orient": "bottom", "values": [0.00507, 1, 197], "labelExpr": "datum.value < 1 ? replace(format(datum.value, '~g'), '0.', '.') : format(datum.value, '~g')", "title": null, "grid": false, "domainColor": "black", "domainWidth": 2, "tickColor": "black", "tickWidth": 2, "tickSize": 6, "labelPadding": 5, "labelFont": "Liberation Serif", "labelFontSize": 23, "labelColor": "black", "labelFlush": false, "labelOverlap": false, "labelBound": false}}, "x2": {"field": "ucl"}, "y": {"field": "row", "type": "quantitative", "scale": {"domain": [-0.7826, 24.397], "reverse": true, "nice": false, "zero": false}, "axis": null}}},
{"transform": [{"filter": "datum.kind == 's'"}], "mark": {"type": "point", "shape": "M-0.8,0L0,-1L0.8,0L0,1Z", "filled": true, "fill": "black", "strokeWidth": 0, "size": 100, "opacity": 1}, "encoding": {"x": {"field": "es", "type": "quantitative", "scale": {"type": "log", "domain": [6.664e-5, 107977], "nice": false}, "axis": null}, "y": {"field": "row", "type": "quantitative", "scale": {"domain": [-0.7826, 24.397], "reverse": true, "nice": false, "zero": false}, "axis": null}}},
{"transform": [{"filter": "datum.kind == 'sub' || datum.kind == 'ov'"}], "mark": {"type": "rule", "color": "#1f1f7a", "strokeWidth": 2.4, "strokeCap": "round", "y2Offset": -10.6}, "encoding": {"x": {"field": "lcl", "type": "quantitative", "scale": {"type": "log", "domain": [6.664e-5, 107977], "nice": false}, "axis": null}, "x2": {"field": "es"}, "y": {"field": "row", "type": "quantitative", "scale": {"domain": [-0.7826, 24.397], "reverse": true, "nice": false, "zero": false}, "axis": null}, "y2": {"field": "row"}}},
{"transform": [{"filter": "datum.kind == 'sub' || datum.kind == 'ov'"}], "mark": {"type": "rule", "color": "#1f1f7a", "strokeWidth": 2.4, "strokeCap": "round", "yOffset": -10.6}, "encoding": {"x": {"field": "es", "type": "quantitative", "scale": {"type": "log", "domain": [6.664e-5, 107977], "nice": false}, "axis": null}, "x2": {"field": "ucl"}, "y": {"field": "row", "type": "quantitative", "scale": {"domain": [-0.7826, 24.397], "reverse": true, "nice": false, "zero": false}, "axis": null}, "y2": {"field": "row"}}},
{"transform": [{"filter": "datum.kind == 'sub' || datum.kind == 'ov'"}], "mark": {"type": "rule", "color": "#1f1f7a", "strokeWidth": 2.4, "strokeCap": "round", "y2Offset": 10.6}, "encoding": {"x": {"field": "lcl", "type": "quantitative", "scale": {"type": "log", "domain": [6.664e-5, 107977], "nice": false}, "axis": null}, "x2": {"field": "es"}, "y": {"field": "row", "type": "quantitative", "scale": {"domain": [-0.7826, 24.397], "reverse": true, "nice": false, "zero": false}, "axis": null}, "y2": {"field": "row"}}},
{"transform": [{"filter": "datum.kind == 'sub' || datum.kind == 'ov'"}], "mark": {"type": "rule", "color": "#1f1f7a", "strokeWidth": 2.4, "strokeCap": "round", "yOffset": 10.6}, "encoding": {"x": {"field": "es", "type": "quantitative", "scale": {"type": "log", "domain": [6.664e-5, 107977], "nice": false}, "axis": null}, "x2": {"field": "ucl"}, "y": {"field": "row", "type": "quantitative", "scale": {"domain": [-0.7826, 24.397], "reverse": true, "nice": false, "zero": false}, "axis": null}, "y2": {"field": "row"}}},
{"transform": [{"filter": "isValid(datum.label)"}], "mark": {"type": "text", "align": "left", "baseline": "middle", "font": "Liberation Serif", "fontSize": 23, "color": "black"}, "encoding": {"x": {"datum": 8.766e-5, "type": "quantitative", "scale": {"type": "log", "domain": [6.664e-5, 107977], "nice": false}, "axis": null}, "y": {"field": "row", "type": "quantitative", "scale": {"domain": [-0.7826, 24.397], "reverse": true, "nice": false, "zero": false}, "axis": null}, "text": {"field": "label"}}},
{"transform": [{"filter": "isValid(datum.ci)"}], "mark": {"type": "text", "align": "left", "baseline": "middle", "font": "Liberation Serif", "fontSize": 23, "color": "black"}, "encoding": {"x": {"datum": 274.2, "type": "quantitative", "scale": {"type": "log", "domain": [6.664e-5, 107977], "nice": false}, "axis": null}, "y": {"field": "row", "type": "quantitative", "scale": {"domain": [-0.7826, 24.397], "reverse": true, "nice": false, "zero": false}, "axis": null}, "text": {"field": "ci"}}},
{"transform": [{"filter": "isValid(datum.wt)"}], "mark": {"type": "text", "align": "left", "baseline": "middle", "font": "Liberation Serif", "fontSize": 23, "color": "black"}, "encoding": {"x": {"datum": 18047, "type": "quantitative", "scale": {"type": "log", "domain": [6.664e-5, 107977], "nice": false}, "axis": null}, "y": {"field": "row", "type": "quantitative", "scale": {"domain": [-0.7826, 24.397], "reverse": true, "nice": false, "zero": false}, "axis": null}, "text": {"field": "wt", "type": "quantitative", "format": ".2f"}}},
{"transform": [{"filter": "isValid(datum.h1)"}], "mark": {"type": "text", "align": "left", "baseline": "middle", "font": "Liberation Serif", "fontSize": 23, "color": "black"}, "encoding": {"x": {"datum": 8.766e-5, "type": "quantitative", "scale": {"type": "log", "domain": [6.664e-5, 107977], "nice": false}, "axis": null}, "y": {"field": "row", "type": "quantitative", "scale": {"domain": [-0.7826, 24.397], "reverse": true, "nice": false, "zero": false}, "axis": null}, "text": {"field": "h1"}}},
{"transform": [{"filter": "isValid(datum.h2)"}], "mark": {"type": "text", "align": "left", "baseline": "middle", "font": "Liberation Serif", "fontSize": 23, "color": "black"}, "encoding": {"x": {"datum": 274.2, "type": "quantitative", "scale": {"type": "log", "domain": [6.664e-5, 107977], "nice": false}, "axis": null}, "y": {"field": "row", "type": "quantitative", "scale": {"domain": [-0.7826, 24.397], "reverse": true, "nice": false, "zero": false}, "axis": null}, "text": {"field": "h2"}}},
{"transform": [{"filter": "isValid(datum.h3)"}], "mark": {"type": "text", "align": "left", "baseline": "middle", "font": "Liberation Serif", "fontSize": 23, "color": "black"}, "encoding": {"x": {"datum": 18047, "type": "quantitative", "scale": {"type": "log", "domain": [6.664e-5, 107977], "nice": false}, "axis": null}, "y": {"field": "row", "type": "quantitative", "scale": {"domain": [-0.7826, 24.397], "reverse": true, "nice": false, "zero": false}, "axis": null}, "text": {"field": "h3"}}},
{"transform": [{"filter": "isValid(datum.letter)"}], "mark": {"type": "text", "align": "left", "baseline": "middle", "font": "Liberation Serif", "fontSize": 38, "fontWeight": "bold", "color": "black"}, "encoding": {"x": {"datum": 6.813e-5, "type": "quantitative", "scale": {"type": "log", "domain": [6.664e-5, 107977], "nice": false}, "axis": null}, "y": {"field": "row", "type": "quantitative", "scale": {"domain": [-0.7826, 24.397], "reverse": true, "nice": false, "zero": false}, "axis": null}, "text": {"field": "letter"}}}
]},
{"width": 18, "height": 1, "data": {"values": [{}]}, "mark": {"type": "text", "text": ""}},
{"width": 955, "height": 666, "data": {"name": "D"}, "layer": [
{"data": {"values": [{}]}, "mark": {"type": "rule", "color": "black", "strokeWidth": 1.6}, "encoding": {"x": {"datum": 1, "type": "quantitative", "scale": {"type": "log", "domain": [0.016272, 96.87], "nice": false}, "axis": null}}},
{"transform": [{"filter": "datum.kind == 'ov'"}], "mark": {"type": "rule", "color": "#a8323e", "strokeWidth": 1.6, "strokeDash": [5, 3.5]}, "encoding": {"x": {"field": "es", "type": "quantitative", "scale": {"type": "log", "domain": [0.016272, 96.87], "nice": false}, "axis": null}}},
{"transform": [{"filter": "datum.kind == 's'"}], "mark": {"type": "point", "shape": "square", "filled": true, "fill": "#b4b4b4", "stroke": "#b4b4b4", "strokeWidth": 3, "opacity": 1}, "encoding": {"x": {"field": "es", "type": "quantitative", "scale": {"type": "log", "domain": [0.016272, 96.87], "nice": false}, "axis": {"orient": "top", "title": null, "grid": false, "ticks": false, "labels": false, "domainColor": "#c8c8c8", "domainWidth": 2}}, "y": {"field": "row", "type": "quantitative", "scale": {"domain": [-0.7012, 25.244], "reverse": true, "nice": false, "zero": false}, "axis": null}, "size": {"field": "wt", "type": "quantitative", "scale": {"domain": [0, 100], "range": [0, 3200]}, "legend": null}}},
{"transform": [{"filter": "datum.kind == 's'"}], "mark": {"type": "rule", "color": "black", "strokeWidth": 2.2}, "encoding": {"x": {"field": "lcl", "type": "quantitative", "scale": {"type": "log", "domain": [0.016272, 96.87], "nice": false}, "axis": {"orient": "bottom", "values": [0.117, 1, 8.51], "labelExpr": "datum.value < 1 ? replace(format(datum.value, '~g'), '0.', '.') : format(datum.value, '~g')", "title": null, "grid": false, "domainColor": "black", "domainWidth": 2, "tickColor": "black", "tickWidth": 2, "tickSize": 6, "labelPadding": 5, "labelFont": "Liberation Serif", "labelFontSize": 23, "labelColor": "black", "labelFlush": false, "labelOverlap": false, "labelBound": false}}, "x2": {"field": "ucl"}, "y": {"field": "row", "type": "quantitative", "scale": {"domain": [-0.7012, 25.244], "reverse": true, "nice": false, "zero": false}, "axis": null}}},
{"transform": [{"filter": "datum.kind == 's'"}], "mark": {"type": "point", "shape": "M-0.8,0L0,-1L0.8,0L0,1Z", "filled": true, "fill": "black", "strokeWidth": 0, "size": 100, "opacity": 1}, "encoding": {"x": {"field": "es", "type": "quantitative", "scale": {"type": "log", "domain": [0.016272, 96.87], "nice": false}, "axis": null}, "y": {"field": "row", "type": "quantitative", "scale": {"domain": [-0.7012, 25.244], "reverse": true, "nice": false, "zero": false}, "axis": null}}},
{"transform": [{"filter": "datum.arrow == true"}], "mark": {"type": "point", "shape": "M-1,-1L0,0L-1,1", "filled": false, "stroke": "black", "strokeWidth": 2.2, "size": 290, "opacity": 1}, "encoding": {"x": {"field": "ucl", "type": "quantitative", "scale": {"type": "log", "domain": [0.016272, 96.87], "nice": false}, "axis": null}, "y": {"field": "row", "type": "quantitative", "scale": {"domain": [-0.7012, 25.244], "reverse": true, "nice": false, "zero": false}, "axis": null}}},
{"transform": [{"filter": "datum.kind == 'sub' || datum.kind == 'ov'"}], "mark": {"type": "rule", "color": "#1f1f7a", "strokeWidth": 2.4, "strokeCap": "round", "y2Offset": -10.3}, "encoding": {"x": {"field": "lcl", "type": "quantitative", "scale": {"type": "log", "domain": [0.016272, 96.87], "nice": false}, "axis": null}, "x2": {"field": "es"}, "y": {"field": "row", "type": "quantitative", "scale": {"domain": [-0.7012, 25.244], "reverse": true, "nice": false, "zero": false}, "axis": null}, "y2": {"field": "row"}}},
{"transform": [{"filter": "datum.kind == 'sub' || datum.kind == 'ov'"}], "mark": {"type": "rule", "color": "#1f1f7a", "strokeWidth": 2.4, "strokeCap": "round", "yOffset": -10.3}, "encoding": {"x": {"field": "es", "type": "quantitative", "scale": {"type": "log", "domain": [0.016272, 96.87], "nice": false}, "axis": null}, "x2": {"field": "ucl"}, "y": {"field": "row", "type": "quantitative", "scale": {"domain": [-0.7012, 25.244], "reverse": true, "nice": false, "zero": false}, "axis": null}, "y2": {"field": "row"}}},
{"transform": [{"filter": "datum.kind == 'sub' || datum.kind == 'ov'"}], "mark": {"type": "rule", "color": "#1f1f7a", "strokeWidth": 2.4, "strokeCap": "round", "y2Offset": 10.3}, "encoding": {"x": {"field": "lcl", "type": "quantitative", "scale": {"type": "log", "domain": [0.016272, 96.87], "nice": false}, "axis": null}, "x2": {"field": "es"}, "y": {"field": "row", "type": "quantitative", "scale": {"domain": [-0.7012, 25.244], "reverse": true, "nice": false, "zero": false}, "axis": null}, "y2": {"field": "row"}}},
{"transform": [{"filter": "datum.kind == 'sub' || datum.kind == 'ov'"}], "mark": {"type": "rule", "color": "#1f1f7a", "strokeWidth": 2.4, "strokeCap": "round", "yOffset": 10.3}, "encoding": {"x": {"field": "es", "type": "quantitative", "scale": {"type": "log", "domain": [0.016272, 96.87], "nice": false}, "axis": null}, "x2": {"field": "ucl"}, "y": {"field": "row", "type": "quantitative", "scale": {"domain": [-0.7012, 25.244], "reverse": true, "nice": false, "zero": false}, "axis": null}, "y2": {"field": "row"}}},
{"transform": [{"filter": "isValid(datum.label)"}], "mark": {"type": "text", "align": "left", "baseline": "middle", "font": "Liberation Serif", "fontSize": 23, "color": "black"}, "encoding": {"x": {"datum": 0.020617, "type": "quantitative", "scale": {"type": "log", "domain": [0.016272, 96.87], "nice": false}, "axis": null}, "y": {"field": "row", "type": "quantitative", "scale": {"domain": [-0.7012, 25.244], "reverse": true, "nice": false, "zero": false}, "axis": null}, "text": {"field": "label"}}},
{"transform": [{"filter": "isValid(datum.ci)"}], "mark": {"type": "text", "align": "left", "baseline": "middle", "font": "Liberation Serif", "fontSize": 23, "color": "black"}, "encoding": {"x": {"datum": 9.512, "type": "quantitative", "scale": {"type": "log", "domain": [0.016272, 96.87], "nice": false}, "axis": null}, "y": {"field": "row", "type": "quantitative", "scale": {"domain": [-0.7012, 25.244], "reverse": true, "nice": false, "zero": false}, "axis": null}, "text": {"field": "ci"}}},
{"transform": [{"filter": "isValid(datum.wt)"}], "mark": {"type": "text", "align": "left", "baseline": "middle", "font": "Liberation Serif", "fontSize": 23, "color": "black"}, "encoding": {"x": {"datum": 44.94, "type": "quantitative", "scale": {"type": "log", "domain": [0.016272, 96.87], "nice": false}, "axis": null}, "y": {"field": "row", "type": "quantitative", "scale": {"domain": [-0.7012, 25.244], "reverse": true, "nice": false, "zero": false}, "axis": null}, "text": {"field": "wt", "type": "quantitative", "format": ".2f"}}},
{"transform": [{"filter": "isValid(datum.h1)"}], "mark": {"type": "text", "align": "left", "baseline": "middle", "font": "Liberation Serif", "fontSize": 23, "color": "black"}, "encoding": {"x": {"datum": 0.020617, "type": "quantitative", "scale": {"type": "log", "domain": [0.016272, 96.87], "nice": false}, "axis": null}, "y": {"field": "row", "type": "quantitative", "scale": {"domain": [-0.7012, 25.244], "reverse": true, "nice": false, "zero": false}, "axis": null}, "text": {"field": "h1"}}},
{"transform": [{"filter": "isValid(datum.h2)"}], "mark": {"type": "text", "align": "left", "baseline": "middle", "font": "Liberation Serif", "fontSize": 23, "color": "black"}, "encoding": {"x": {"datum": 9.512, "type": "quantitative", "scale": {"type": "log", "domain": [0.016272, 96.87], "nice": false}, "axis": null}, "y": {"field": "row", "type": "quantitative", "scale": {"domain": [-0.7012, 25.244], "reverse": true, "nice": false, "zero": false}, "axis": null}, "text": {"field": "h2"}}},
{"transform": [{"filter": "isValid(datum.h3)"}], "mark": {"type": "text", "align": "left", "baseline": "middle", "font": "Liberation Serif", "fontSize": 23, "color": "black"}, "encoding": {"x": {"datum": 44.94, "type": "quantitative", "scale": {"type": "log", "domain": [0.016272, 96.87], "nice": false}, "axis": null}, "y": {"field": "row", "type": "quantitative", "scale": {"domain": [-0.7012, 25.244], "reverse": true, "nice": false, "zero": false}, "axis": null}, "text": {"field": "h3"}}},
{"transform": [{"filter": "isValid(datum.letter)"}], "mark": {"type": "text", "align": "left", "baseline": "middle", "font": "Liberation Serif", "fontSize": 38, "fontWeight": "bold", "color": "black"}, "encoding": {"x": {"datum": 0.018149, "type": "quantitative", "scale": {"type": "log", "domain": [0.016272, 96.87], "nice": false}, "axis": null}, "y": {"field": "row", "type": "quantitative", "scale": {"domain": [-0.7012, 25.244], "reverse": true, "nice": false, "zero": false}, "axis": null}, "text": {"field": "letter"}}}
]},
{"width": 1, "height": 1, "data": {"values": [{}]}, "mark": {"type": "text", "text": ""}},
{"width": 1, "height": 299.5, "data": {"values": [{}]}, "mark": {"type": "text", "text": ""}},
{"width": 1, "height": 1, "data": {"values": [{}]}, "mark": {"type": "text", "text": ""}},
{"width": 1, "height": 299.5, "data": {"values": [{}]}, "mark": {"type": "text", "text": ""}},
{"width": 1, "height": 1, "data": {"values": [{}]}, "mark": {"type": "text", "text": ""}},
{"width": 939, "height": 397, "data": {"name": "E"}, "layer": [
{"data": {"values": [{}]}, "mark": {"type": "rule", "color": "black", "strokeWidth": 1.6}, "encoding": {"x": {"datum": 1, "type": "quantitative", "scale": {"type": "log", "domain": [0.0010876, 3090.5], "nice": false}, "axis": null}}},
{"transform": [{"filter": "datum.kind == 'ov'"}], "mark": {"type": "rule", "color": "#a8323e", "strokeWidth": 1.6, "strokeDash": [5, 3.5]}, "encoding": {"x": {"field": "es", "type": "quantitative", "scale": {"type": "log", "domain": [0.0010876, 3090.5], "nice": false}, "axis": null}}},
{"transform": [{"filter": "datum.kind == 's'"}], "mark": {"type": "point", "shape": "square", "filled": true, "fill": "#b4b4b4", "stroke": "#b4b4b4", "strokeWidth": 3, "opacity": 1}, "encoding": {"x": {"field": "es", "type": "quantitative", "scale": {"type": "log", "domain": [0.0010876, 3090.5], "nice": false}, "axis": {"orient": "top", "title": null, "grid": false, "ticks": false, "labels": false, "domainColor": "#c8c8c8", "domainWidth": 2}}, "y": {"field": "row", "type": "quantitative", "scale": {"domain": [-0.7938, 8.7266], "reverse": true, "nice": false, "zero": false}, "axis": null}, "size": {"field": "wt", "type": "quantitative", "scale": {"domain": [0, 100], "range": [0, 4600]}, "legend": null}}},
{"transform": [{"filter": "datum.kind == 's'"}], "mark": {"type": "rule", "color": "black", "strokeWidth": 2.2}, "encoding": {"x": {"field": "lcl", "type": "quantitative", "scale": {"type": "log", "domain": [0.0010876, 3090.5], "nice": false}, "axis": {"orient": "bottom", "values": [0.0265, 1, 37.7], "labelExpr": "datum.value < 1 ? replace(format(datum.value, '~g'), '0.', '.') : format(datum.value, '~g')", "title": null, "grid": false, "domainColor": "black", "domainWidth": 2, "tickColor": "black", "tickWidth": 2, "tickSize": 6, "labelPadding": 5, "labelFont": "Liberation Serif", "labelFontSize": 23, "labelColor": "black", "labelFlush": false, "labelOverlap": false, "labelBound": false}}, "x2": {"field": "ucl"}, "y": {"field": "row", "type": "quantitative", "scale": {"domain": [-0.7938, 8.7266], "reverse": true, "nice": false, "zero": false}, "axis": null}}},
{"transform": [{"filter": "datum.kind == 's'"}], "mark": {"type": "point", "shape": "M-0.8,0L0,-1L0.8,0L0,1Z", "filled": true, "fill": "black", "strokeWidth": 0, "size": 100, "opacity": 1}, "encoding": {"x": {"field": "es", "type": "quantitative", "scale": {"type": "log", "domain": [0.0010876, 3090.5], "nice": false}, "axis": null}, "y": {"field": "row", "type": "quantitative", "scale": {"domain": [-0.7938, 8.7266], "reverse": true, "nice": false, "zero": false}, "axis": null}}},
{"transform": [{"filter": "datum.arrow == true"}], "mark": {"type": "point", "shape": "M-1,-1L0,0L-1,1", "filled": false, "stroke": "black", "strokeWidth": 2.2, "size": 480, "opacity": 1}, "encoding": {"x": {"field": "ucl", "type": "quantitative", "scale": {"type": "log", "domain": [0.0010876, 3090.5], "nice": false}, "axis": null}, "y": {"field": "row", "type": "quantitative", "scale": {"domain": [-0.7938, 8.7266], "reverse": true, "nice": false, "zero": false}, "axis": null}}},
{"transform": [{"filter": "datum.kind == 'sub' || datum.kind == 'ov'"}], "mark": {"type": "rule", "color": "#1f1f7a", "strokeWidth": 2.4, "strokeCap": "round", "y2Offset": -16.7}, "encoding": {"x": {"field": "lcl", "type": "quantitative", "scale": {"type": "log", "domain": [0.0010876, 3090.5], "nice": false}, "axis": null}, "x2": {"field": "es"}, "y": {"field": "row", "type": "quantitative", "scale": {"domain": [-0.7938, 8.7266], "reverse": true, "nice": false, "zero": false}, "axis": null}, "y2": {"field": "row"}}},
{"transform": [{"filter": "datum.kind == 'sub' || datum.kind == 'ov'"}], "mark": {"type": "rule", "color": "#1f1f7a", "strokeWidth": 2.4, "strokeCap": "round", "yOffset": -16.7}, "encoding": {"x": {"field": "es", "type": "quantitative", "scale": {"type": "log", "domain": [0.0010876, 3090.5], "nice": false}, "axis": null}, "x2": {"field": "ucl"}, "y": {"field": "row", "type": "quantitative", "scale": {"domain": [-0.7938, 8.7266], "reverse": true, "nice": false, "zero": false}, "axis": null}, "y2": {"field": "row"}}},
{"transform": [{"filter": "datum.kind == 'sub' || datum.kind == 'ov'"}], "mark": {"type": "rule", "color": "#1f1f7a", "strokeWidth": 2.4, "strokeCap": "round", "y2Offset": 16.7}, "encoding": {"x": {"field": "lcl", "type": "quantitative", "scale": {"type": "log", "domain": [0.0010876, 3090.5], "nice": false}, "axis": null}, "x2": {"field": "es"}, "y": {"field": "row", "type": "quantitative", "scale": {"domain": [-0.7938, 8.7266], "reverse": true, "nice": false, "zero": false}, "axis": null}, "y2": {"field": "row"}}},
{"transform": [{"filter": "datum.kind == 'sub' || datum.kind == 'ov'"}], "mark": {"type": "rule", "color": "#1f1f7a", "strokeWidth": 2.4, "strokeCap": "round", "yOffset": 16.7}, "encoding": {"x": {"field": "es", "type": "quantitative", "scale": {"type": "log", "domain": [0.0010876, 3090.5], "nice": false}, "axis": null}, "x2": {"field": "ucl"}, "y": {"field": "row", "type": "quantitative", "scale": {"domain": [-0.7938, 8.7266], "reverse": true, "nice": false, "zero": false}, "axis": null}, "y2": {"field": "row"}}},
{"transform": [{"filter": "isValid(datum.label)"}], "mark": {"type": "text", "align": "left", "baseline": "middle", "font": "Liberation Serif", "fontSize": 23, "color": "black"}, "encoding": {"x": {"datum": 0.0016409, "type": "quantitative", "scale": {"type": "log", "domain": [0.0010876, 3090.5], "nice": false}, "axis": null}, "y": {"field": "row", "type": "quantitative", "scale": {"domain": [-0.7938, 8.7266], "reverse": true, "nice": false, "zero": false}, "axis": null}, "text": {"field": "label"}}},
{"transform": [{"filter": "isValid(datum.ci)"}], "mark": {"type": "text", "align": "left", "baseline": "middle", "font": "Liberation Serif", "fontSize": 23, "color": "black"}, "encoding": {"x": {"datum": 45.76, "type": "quantitative", "scale": {"type": "log", "domain": [0.0010876, 3090.5], "nice": false}, "axis": null}, "y": {"field": "row", "type": "quantitative", "scale": {"domain": [-0.7938, 8.7266], "reverse": true, "nice": false, "zero": false}, "axis": null}, "text": {"field": "ci"}}},
{"transform": [{"filter": "isValid(datum.wt)"}], "mark": {"type": "text", "align": "left", "baseline": "middle", "font": "Liberation Serif", "fontSize": 23, "color": "black"}, "encoding": {"x": {"datum": 786.3, "type": "quantitative", "scale": {"type": "log", "domain": [0.0010876, 3090.5], "nice": false}, "axis": null}, "y": {"field": "row", "type": "quantitative", "scale": {"domain": [-0.7938, 8.7266], "reverse": true, "nice": false, "zero": false}, "axis": null}, "text": {"field": "wt", "type": "quantitative", "format": ".2f"}}},
{"transform": [{"filter": "isValid(datum.h1)"}], "mark": {"type": "text", "align": "left", "baseline": "middle", "font": "Liberation Serif", "fontSize": 23, "color": "black"}, "encoding": {"x": {"datum": 0.0016409, "type": "quantitative", "scale": {"type": "log", "domain": [0.0010876, 3090.5], "nice": false}, "axis": null}, "y": {"field": "row", "type": "quantitative", "scale": {"domain": [-0.7938, 8.7266], "reverse": true, "nice": false, "zero": false}, "axis": null}, "text": {"field": "h1"}}},
{"transform": [{"filter": "isValid(datum.h2)"}], "mark": {"type": "text", "align": "left", "baseline": "middle", "font": "Liberation Serif", "fontSize": 23, "color": "black"}, "encoding": {"x": {"datum": 45.76, "type": "quantitative", "scale": {"type": "log", "domain": [0.0010876, 3090.5], "nice": false}, "axis": null}, "y": {"field": "row", "type": "quantitative", "scale": {"domain": [-0.7938, 8.7266], "reverse": true, "nice": false, "zero": false}, "axis": null}, "text": {"field": "h2"}}},
{"transform": [{"filter": "isValid(datum.h3)"}], "mark": {"type": "text", "align": "left", "baseline": "middle", "font": "Liberation Serif", "fontSize": 23, "color": "black"}, "encoding": {"x": {"datum": 786.3, "type": "quantitative", "scale": {"type": "log", "domain": [0.0010876, 3090.5], "nice": false}, "axis": null}, "y": {"field": "row", "type": "quantitative", "scale": {"domain": [-0.7938, 8.7266], "reverse": true, "nice": false, "zero": false}, "axis": null}, "text": {"field": "h3"}}},
{"transform": [{"filter": "isValid(datum.letter)"}], "mark": {"type": "text", "align": "left", "baseline": "middle", "font": "Liberation Serif", "fontSize": 38, "fontWeight": "bold", "color": "black"}, "encoding": {"x": {"datum": 0.0015403, "type": "quantitative", "scale": {"type": "log", "domain": [0.0010876, 3090.5], "nice": false}, "axis": null}, "y": {"field": "row", "type": "quantitative", "scale": {"domain": [-0.7938, 8.7266], "reverse": true, "nice": false, "zero": false}, "axis": null}, "text": {"field": "letter"}}}
]},
{"width": 18, "height": 1, "data": {"values": [{}]}, "mark": {"type": "text", "text": ""}},
{"width": 948, "height": 397, "data": {"name": "F"}, "layer": [
{"data": {"values": [{}]}, "mark": {"type": "rule", "color": "black", "strokeWidth": 1.6}, "encoding": {"x": {"datum": 1, "type": "quantitative", "scale": {"type": "log", "domain": [1.9807e-4, 90054], "nice": false}, "axis": null}}},
{"transform": [{"filter": "datum.kind == 'ov'"}], "mark": {"type": "rule", "color": "#a8323e", "strokeWidth": 1.6, "strokeDash": [5, 3.5]}, "encoding": {"x": {"field": "es", "type": "quantitative", "scale": {"type": "log", "domain": [1.9807e-4, 90054], "nice": false}, "axis": null}}},
{"transform": [{"filter": "datum.kind == 's'"}], "mark": {"type": "point", "shape": "square", "filled": true, "fill": "#b4b4b4", "stroke": "#b4b4b4", "strokeWidth": 3, "opacity": 1}, "encoding": {"x": {"field": "es", "type": "quantitative", "scale": {"type": "log", "domain": [1.9807e-4, 90054], "nice": false}, "axis": {"orient": "top", "title": null, "grid": false, "ticks": false, "labels": false, "domainColor": "#c8c8c8", "domainWidth": 2}}, "y": {"field": "row", "type": "quantitative", "scale": {"domain": [-0.7134, 7.8427], "reverse": true, "nice": false, "zero": false}, "axis": null}, "size": {"field": "wt", "type": "quantitative", "scale": {"domain": [0, 100], "range": [0, 4300]}, "legend": null}}},
{"transform": [{"filter": "datum.kind == 's'"}], "mark": {"type": "rule", "color": "black", "strokeWidth": 2.2}, "encoding": {"x": {"field": "lcl", "type": "quantitative", "scale": {"type": "log", "domain": [1.9807e-4, 90054], "nice": false}, "axis": {"orient": "bottom", "values": [0.00606, 1, 165], "labelExpr": "datum.value < 1 ? replace(format(datum.value, '~g'), '0.', '.') : format(datum.value, '~g')", "title": null, "grid": false, "domainColor": "black", "domainWidth": 2, "tickColor": "black", "tickWidth": 2, "tickSize": 6, "labelPadding": 5, "labelFont": "Liberation Serif", "labelFontSize": 23, "labelColor": "black", "labelFlush": false, "labelOverlap": false, "labelBound": false}}, "x2": {"field": "ucl"}, "y": {"field": "row", "type": "quantitative", "scale": {"domain": [-0.7134, 7.8427], "reverse": true, "nice": false, "zero": false}, "axis": null}}},
{"transform": [{"filter": "datum.kind == 's'"}], "mark": {"type": "point", "shape": "M-0.8,0L0,-1L0.8,0L0,1Z", "filled": true, "fill": "black", "strokeWidth": 0, "size": 100, "opacity": 1}, "encoding": {"x": {"field": "es", "type": "quantitative", "scale": {"type": "log", "domain": [1.9807e-4, 90054], "nice": false}, "axis": null}, "y": {"field": "row", "type": "quantitative", "scale": {"domain": [-0.7134, 7.8427], "reverse": true, "nice": false, "zero": false}, "axis": null}}},
{"transform": [{"filter": "datum.kind == 'sub' || datum.kind == 'ov'"}], "mark": {"type": "rule", "color": "#1f1f7a", "strokeWidth": 2.4, "strokeCap": "round", "y2Offset": -18.6}, "encoding": {"x": {"field": "lcl", "type": "quantitative", "scale": {"type": "log", "domain": [1.9807e-4, 90054], "nice": false}, "axis": null}, "x2": {"field": "es"}, "y": {"field": "row", "type": "quantitative", "scale": {"domain": [-0.7134, 7.8427], "reverse": true, "nice": false, "zero": false}, "axis": null}, "y2": {"field": "row"}}},
{"transform": [{"filter": "datum.kind == 'sub' || datum.kind == 'ov'"}], "mark": {"type": "rule", "color": "#1f1f7a", "strokeWidth": 2.4, "strokeCap": "round", "yOffset": -18.6}, "encoding": {"x": {"field": "es", "type": "quantitative", "scale": {"type": "log", "domain": [1.9807e-4, 90054], "nice": false}, "axis": null}, "x2": {"field": "ucl"}, "y": {"field": "row", "type": "quantitative", "scale": {"domain": [-0.7134, 7.8427], "reverse": true, "nice": false, "zero": false}, "axis": null}, "y2": {"field": "row"}}},
{"transform": [{"filter": "datum.kind == 'sub' || datum.kind == 'ov'"}], "mark": {"type": "rule", "color": "#1f1f7a", "strokeWidth": 2.4, "strokeCap": "round", "y2Offset": 18.6}, "encoding": {"x": {"field": "lcl", "type": "quantitative", "scale": {"type": "log", "domain": [1.9807e-4, 90054], "nice": false}, "axis": null}, "x2": {"field": "es"}, "y": {"field": "row", "type": "quantitative", "scale": {"domain": [-0.7134, 7.8427], "reverse": true, "nice": false, "zero": false}, "axis": null}, "y2": {"field": "row"}}},
{"transform": [{"filter": "datum.kind == 'sub' || datum.kind == 'ov'"}], "mark": {"type": "rule", "color": "#1f1f7a", "strokeWidth": 2.4, "strokeCap": "round", "yOffset": 18.6}, "encoding": {"x": {"field": "es", "type": "quantitative", "scale": {"type": "log", "domain": [1.9807e-4, 90054], "nice": false}, "axis": null}, "x2": {"field": "ucl"}, "y": {"field": "row", "type": "quantitative", "scale": {"domain": [-0.7134, 7.8427], "reverse": true, "nice": false, "zero": false}, "axis": null}, "y2": {"field": "row"}}},
{"transform": [{"filter": "isValid(datum.label)"}], "mark": {"type": "text", "align": "left", "baseline": "middle", "font": "Liberation Serif", "fontSize": 23, "color": "black"}, "encoding": {"x": {"datum": 1.4297e-4, "type": "quantitative", "scale": {"type": "log", "domain": [1.9807e-4, 90054], "nice": false}, "axis": null}, "y": {"field": "row", "type": "quantitative", "scale": {"domain": [-0.7134, 7.8427], "reverse": true, "nice": false, "zero": false}, "axis": null}, "text": {"field": "label"}}},
{"transform": [{"filter": "isValid(datum.ci)"}], "mark": {"type": "text", "align": "left", "baseline": "middle", "font": "Liberation Serif", "fontSize": 23, "color": "black"}, "encoding": {"x": {"datum": 191.5, "type": "quantitative", "scale": {"type": "log", "domain": [1.9807e-4, 90054], "nice": false}, "axis": null}, "y": {"field": "row", "type": "quantitative", "scale": {"domain": [-0.7134, 7.8427], "reverse": true, "nice": false, "zero": false}, "axis": null}, "text": {"field": "ci"}}},
{"transform": [{"filter": "isValid(datum.wt)"}], "mark": {"type": "text", "align": "left", "baseline": "middle", "font": "Liberation Serif", "fontSize": 23, "color": "black"}, "encoding": {"x": {"datum": 12418, "type": "quantitative", "scale": {"type": "log", "domain": [1.9807e-4, 90054], "nice": false}, "axis": null}, "y": {"field": "row", "type": "quantitative", "scale": {"domain": [-0.7134, 7.8427], "reverse": true, "nice": false, "zero": false}, "axis": null}, "text": {"field": "wt", "type": "quantitative", "format": ".2f"}}},
{"transform": [{"filter": "isValid(datum.h1)"}], "mark": {"type": "text", "align": "left", "baseline": "middle", "font": "Liberation Serif", "fontSize": 23, "color": "black"}, "encoding": {"x": {"datum": 1.4297e-4, "type": "quantitative", "scale": {"type": "log", "domain": [1.9807e-4, 90054], "nice": false}, "axis": null}, "y": {"field": "row", "type": "quantitative", "scale": {"domain": [-0.7134, 7.8427], "reverse": true, "nice": false, "zero": false}, "axis": null}, "text": {"field": "h1"}}},
{"transform": [{"filter": "isValid(datum.h2)"}], "mark": {"type": "text", "align": "left", "baseline": "middle", "font": "Liberation Serif", "fontSize": 23, "color": "black"}, "encoding": {"x": {"datum": 191.5, "type": "quantitative", "scale": {"type": "log", "domain": [1.9807e-4, 90054], "nice": false}, "axis": null}, "y": {"field": "row", "type": "quantitative", "scale": {"domain": [-0.7134, 7.8427], "reverse": true, "nice": false, "zero": false}, "axis": null}, "text": {"field": "h2"}}},
{"transform": [{"filter": "isValid(datum.h3)"}], "mark": {"type": "text", "align": "left", "baseline": "middle", "font": "Liberation Serif", "fontSize": 23, "color": "black"}, "encoding": {"x": {"datum": 12418, "type": "quantitative", "scale": {"type": "log", "domain": [1.9807e-4, 90054], "nice": false}, "axis": null}, "y": {"field": "row", "type": "quantitative", "scale": {"domain": [-0.7134, 7.8427], "reverse": true, "nice": false, "zero": false}, "axis": null}, "text": {"field": "h3"}}},
{"transform": [{"filter": "isValid(datum.letter)"}], "mark": {"type": "text", "align": "left", "baseline": "middle", "font": "Liberation Serif", "fontSize": 38, "fontWeight": "bold", "color": "black"}, "encoding": {"x": {"datum": 1.4297e-4, "type": "quantitative", "scale": {"type": "log", "domain": [1.9807e-4, 90054], "nice": false}, "axis": null}, "y": {"field": "row", "type": "quantitative", "scale": {"domain": [-0.7134, 7.8427], "reverse": true, "nice": false, "zero": false}, "axis": null}, "text": {"field": "letter"}}}
]}
]
}
